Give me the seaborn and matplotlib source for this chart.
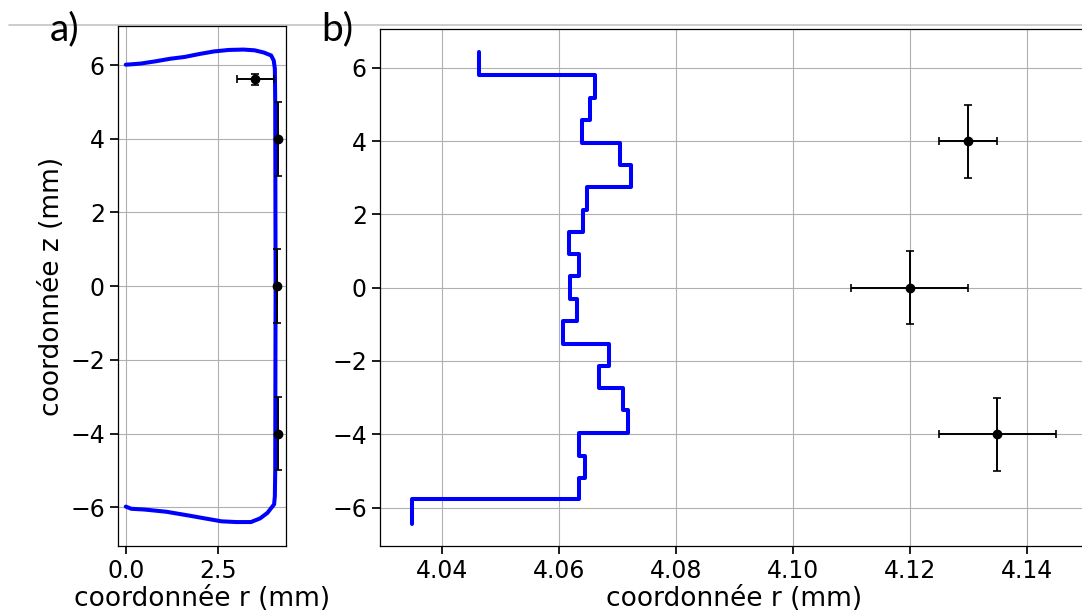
import numpy as np
import pandas as pd
import seaborn as sns
import matplotlib.pyplot as plt
from matplotlib.lines import Line2D

# ---------------- data ----------------
# panel a: full profile (r, z) in mm
r_profile_a = [0.0, 0.15, 0.4, 0.8, 1.2, 1.6, 2.0, 2.4, 2.8, 3.2, 3.5, 3.75, 3.95, 4.02, 4.05,
               4.06, 4.07, 4.06, 4.05, 4.03, 3.95, 3.85, 3.65, 3.4, 3.0, 2.6, 2.2, 1.75,
               1.1, 0.5, 0.15, 0.0]
z_profile_a = [6.01, 6.02, 6.04, 6.10, 6.17, 6.22, 6.30, 6.37, 6.41, 6.42, 6.40, 6.34, 6.26, 6.12, 5.90,
               5.0, 0.0, -5.0, -5.70, -5.92, -6.02, -6.15, -6.30, -6.40, -6.40, -6.38, -6.31, -6.23,
               -6.12, -6.06, -6.04, -5.98]

# panel b: stair profile, one r value per z slice (top to bottom)
z_edges_b = [6.44, 5.80, 5.18, 4.58, 3.95, 3.34, 2.76, 2.13, 1.52, 0.91, 0.31,
             -0.31, -0.90, -1.53, -2.14, -2.73, -3.35, -3.96, -4.60, -5.19, -5.78, -6.46]
r_slices_b = [4.0464, 4.0661, 4.0654, 4.0640, 4.0705, 4.0723, 4.0648, 4.0641, 4.0618, 4.0634,
              4.0619, 4.0631, 4.0607, 4.0686, 4.0669, 4.0710, 4.0719, 4.0634, 4.0644, 4.0635,
              4.0349]

# measured points with uncertainties
meas_r = [4.13, 4.12, 4.135]
meas_z = [4.0, 0.0, -4.0]
meas_rerr = [0.005, 0.01, 0.01]
meas_zerr = [1.0, 1.0, 1.0]

# extra point in panel a
extra_r = [3.52]
extra_z = [5.61]
extra_rerr = [0.5]
extra_zerr = [0.15]

# ---------------- style ----------------
sns.set_theme(style="ticks")
plt.rcParams['font.family'] = ['DejaVu Sans']
plt.rcParams.update({
    'axes.edgecolor': 'black',
    'axes.linewidth': 0.9,
    'xtick.color': 'black',
    'ytick.color': 'black',
    'text.color': 'black',
    'axes.labelcolor': 'black',
    'grid.color': '#b0b0b0',
    'grid.linewidth': 0.8,
    'xtick.labelsize': 17,
    'ytick.labelsize': 17,
    'axes.labelsize': 19,
})

fig = plt.figure(figsize=(10.82, 6.10), dpi=100)
ax_a = fig.add_axes([0.1091, 0.1049, 0.1553, 0.8525])
ax_b = fig.add_axes([0.3512, 0.1049, 0.6543, 0.8475])

blue = '#0000ff'

# panel a
df_a = pd.DataFrame({'r': r_profile_a, 'z': z_profile_a})
sns.lineplot(data=df_a, x='r', y='z', sort=False, estimator=None, color=blue,
             linewidth=2.9, ax=ax_a, zorder=2)
ax_a.errorbar(meas_r, meas_z, xerr=meas_rerr, yerr=meas_zerr, fmt='o', color='black',
              markersize=6, capsize=3, elinewidth=1.4, capthick=1.2, zorder=3)
ax_a.errorbar(extra_r, extra_z, xerr=extra_rerr, yerr=extra_zerr, fmt='o', color='black',
              markersize=6, capsize=3, elinewidth=1.4, capthick=1.2, zorder=3)

# panel b: build stair path from slices
r_b = np.repeat(r_slices_b, 2)
z_b = np.column_stack([z_edges_b[:-1], z_edges_b[1:]]).ravel()
df_b = pd.DataFrame({'r': r_b, 'z': z_b})
sns.lineplot(data=df_b, x='r', y='z', sort=False, estimator=None, color=blue,
             linewidth=2.9, ax=ax_b, zorder=2)
ax_b.errorbar(meas_r, meas_z, xerr=meas_rerr, yerr=meas_zerr, fmt='o', color='black',
              markersize=6, capsize=3, elinewidth=1.4, capthick=1.2, zorder=3)

for ax in (ax_a, ax_b):
    ax.grid(True)
    ax.set_axisbelow(True)
    ax.set_yticks([-6, -4, -2, 0, 2, 4, 6])
    ax.set_ylim(-7.05, 7.06)
    ax.set_xlabel('coordonnée r (mm)', labelpad=2)

ax_a.set_xlim(-0.21, 4.355)
ax_a.set_xticks([0, 2.5])
ax_a.set_ylabel('coordonnée z (mm)')
ax_b.set_xlim(4.0294, 4.1505)
ax_b.set_xticks([4.04, 4.06, 4.08, 4.10, 4.12, 4.14])
ax_b.set_ylabel('')

# panel letters and top rule
fig.text(50 / 1082, 1 - 40 / 610, 'a)', fontsize=28, family=['Lato', 'DejaVu Sans'], va='baseline')
fig.text(321 / 1082, 1 - 40 / 610, 'b)', fontsize=28, family=['Lato', 'DejaVu Sans'], va='baseline')
fig.add_artist(Line2D([9 / 1082, 1.0], [1 - 24.5 / 610] * 2, color='#c4c4c4', linewidth=1.2,
                      zorder=0))

fig.savefig('out.png', dpi=100)
